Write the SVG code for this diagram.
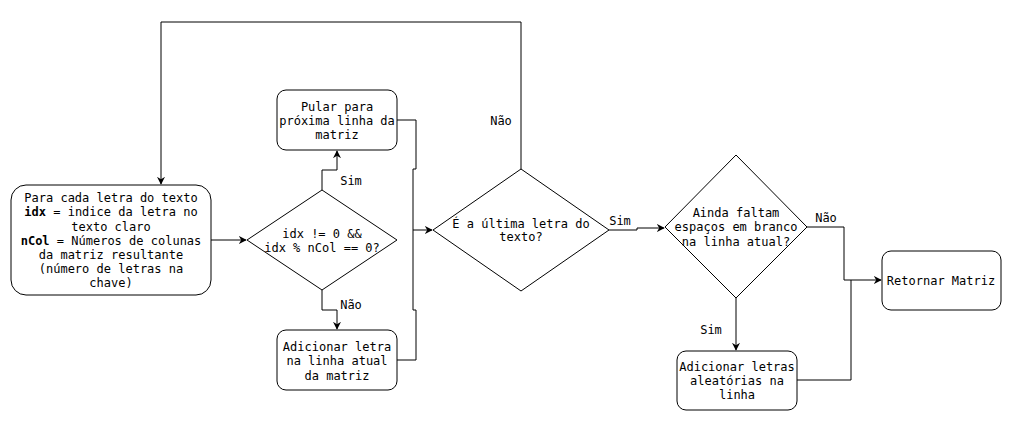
<svg xmlns="http://www.w3.org/2000/svg" width="1018" height="430" viewBox="0 0 1018 430">
<defs>
<style>
.n{fill:#fff;stroke:#000;stroke-width:1}
.e{fill:none;stroke:#000;stroke-width:1}
text{font-family:"DejaVu Sans Mono",monospace;font-size:12px;fill:#000}
.c{text-anchor:middle}
</style>
<marker id="a" viewBox="0 0 10 10" refX="9" refY="5" markerWidth="8" markerHeight="8" markerUnits="userSpaceOnUse" orient="auto">
<path d="M0,0 L10,5 L0,10 L3,5 Z" fill="#000"/>
</marker>
</defs>
<rect width="1018" height="430" fill="#fff"/>
<g id="connectors">
<path class="e" d="M521,169 V22 H161 V184" marker-end="url(#a)"/>
<path class="e" d="M211,240 H246" marker-end="url(#a)"/>
<path class="e" d="M322,190 V170 H337 V151" marker-end="url(#a)"/>
<path class="e" d="M322,290 V310 H337 V329" marker-end="url(#a)"/>
<path class="e" d="M397,120 H416 V169 H413 V230 H432" marker-end="url(#a)"/>
<path class="e" d="M397,360 H416 V310 H413 V230"/>
<path class="e" d="M609,230 H637 V228 H664" marker-end="url(#a)"/>
<path class="e" d="M807,227 H844 V280 H881" marker-end="url(#a)"/>
<path class="e" d="M736,298 V350" marker-end="url(#a)"/>
<path class="e" d="M797,380 H851 V280"/>
<text x="501" y="125" class="c">Não</text>
<text x="351" y="185" class="c">Sim</text>
<text x="351" y="309" class="c">Não</text>
<text x="620" y="225" class="c">Sim</text>
<text x="826" y="222" class="c">Não</text>
<text x="711" y="334" class="c">Sim</text>
</g>
<g id="n1">
<rect class="n" x="11" y="185" width="200" height="110" rx="15"/>
<text class="c" x="111" y="202">Para cada letra do texto</text>
<text class="c" x="111" y="216"><tspan font-weight="bold">idx</tspan> = indice da letra no</text>
<text class="c" x="111" y="231">texto claro</text>
<text class="c" x="111" y="245"><tspan font-weight="bold">nCol</tspan> = Números de colunas</text>
<text class="c" x="111" y="259">da matriz resultante</text>
<text class="c" x="111" y="273">(número de letras na</text>
<text class="c" x="111" y="287">chave)</text>
</g>
<g id="d1">
<path class="n" d="M322,190 L397,240 L322,290 L247,240 Z"/>
<text class="c" x="322" y="238">idx != 0 &amp;&amp;</text>
<text class="c" x="322" y="252">idx % nCol == 0?</text>
</g>
<g id="n2">
<rect class="n" x="277" y="90" width="120" height="60" rx="9"/>
<text class="c" x="337" y="111">Pular para</text>
<text class="c" x="337" y="125">próxima linha da</text>
<text class="c" x="337" y="139">matriz</text>
</g>
<g id="n3">
<rect class="n" x="277" y="330" width="120" height="60" rx="9"/>
<text class="c" x="337" y="351">Adicionar letra</text>
<text class="c" x="337" y="365">na linha atual</text>
<text class="c" x="337" y="380">da matriz</text>
</g>
<g id="d2">
<path class="n" d="M521,169 L609,230 L521,291 L433,230 Z"/>
<text class="c" x="521" y="228">É a última letra do</text>
<text class="c" x="521" y="241">texto?</text>
</g>
<g id="d3">
<path class="n" d="M736,155 L807,227 L736,298 L665,227 Z"/>
<text class="c" x="736" y="217">Ainda faltam</text>
<text class="c" x="736" y="231">espaços em branco</text>
<text class="c" x="736" y="246">na linha atual?</text>
</g>
<g id="n4">
<rect class="n" x="882" y="251" width="119" height="59" rx="9"/>
<text class="c" x="941" y="285">Retornar Matriz</text>
</g>
<g id="n5">
<rect class="n" x="677" y="351" width="120" height="59" rx="9"/>
<text class="c" x="737" y="371">Adicionar letras</text>
<text class="c" x="737" y="385">aleatórias na</text>
<text class="c" x="737" y="399">linha</text>
</g>
</svg>
